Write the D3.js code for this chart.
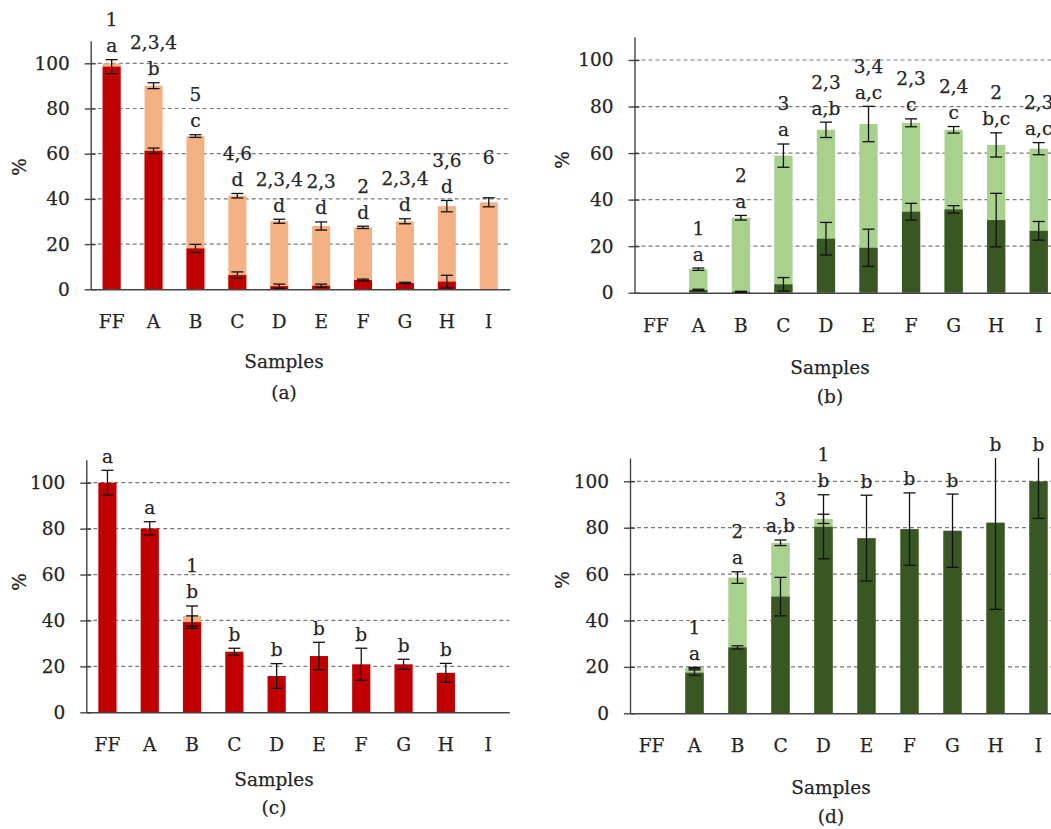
<!DOCTYPE html>
<html><head><meta charset="utf-8">
<script src="https://cdn.jsdelivr.net/npm/d3@7"></script>
<style>
body{margin:0;background:#fff}
svg{display:block}
text{font-family:"DejaVu Serif",serif;fill:#262626;stroke:#262626;stroke-width:0.25px}
</style>
</head><body>
<svg id="chart" width="1051" height="829"></svg>
<script>
const categories = ["FF","A","B","C","D","E","F","G","H","I"];
const yTicks = [0,20,40,60,80,100];

// (a)
const aLower    = [98.5,61.3,18.1,6.3,1.4,1.6,4.1,2.8,3.4,0];
const aLowerErr = [3.1,1.2,1.8,1.4,0.9,0.7,0.4,0.3,2.8,0];
const aTotal    = [100,90.1,67.8,41.4,30.1,28,27.4,30.1,36.8,38.5];
const aTotalErr = [0,1.3,0.6,1,0.9,1.8,0.5,1.1,2.5,2];
const aNum = ["1","2,3,4","5","4,6","2,3,4","2,3","2","2,3,4","3,6","6"];
const aLet = ["a","b","c","d","d","d","d","d","d",""];

// (b)
const bLower    = [null,1.2,0.4,3.6,23.2,19.3,34.8,35.8,31.2,26.6];
const bLowerErr = [0,0.3,0.2,2.9,7,8,3.6,1.6,11.5,4];
const bTotal    = [null,10.1,32.2,58.9,70,72.5,73,70,63.5,61.9];
const bTotalErr = [0,0.5,1,5,3.3,7.6,1.7,1.4,5.2,2.6];
const bNum = ["","1","2","3","2,3","3,4","2,3","2,4","2","2,3"];
const bLet = ["","a","a","a","a,b","a,c","c","c","b,c","a,c"];

// (c)
const cLower    = [100,80.1,39.3,26.4,15.8,24.5,20.9,20.9,17.2,null];
const cLowerErr = [5.4,2.9,2.7,1.5,5.4,6,7,2.2,4.1,0];
const cTotal    = [null,null,41.9,null,null,null,null,null,null,null];
const cTotalErr = [0,0,4.4,0,0,0,0,0,0,0];
const cNum = ["","","1","","","","","","",""];
const cLet = ["a","a","b","b","b","b","b","b","b",""];

// (d)
const dLower    = [null,17.5,28.4,50.3,80.4,75.5,79.4,78.7,82.2,100];
const dLowerErr = [0,1.2,0.7,8.3,13.8,18.5,15.6,15.8,37.4,16];
const dTotal    = [null,19.5,58.5,73.5,83.8,null,null,null,null,null];
const dTotalErr = [0,0.3,2.5,1.2,2,0,0,0,0,0];
const dNum = ["","1","2","3","1","","","","",""];
const dLet = ["","a","a","a,b","b","b","b","b","b","b"];

const RED = "#C00000", ORANGE = "#F4B183", DKGREEN = "#385723", LTGREEN = "#A9D18E";

const panels = [
  {lower:aLower, lowerErr:aLowerErr, total:aTotal, totalErr:aTotalErr, num:aNum, let:aLet,
   cLow:RED, cUp:ORANGE, x0:90.7, x1:509.7, y0:289.3, y100:63.3, pctX:20, pctY:167,
   capX:284, samplesY:362, tagY:393, tag:"(a)"},
  {lower:bLower, lowerErr:bLowerErr, total:bTotal, totalErr:bTotalErr, num:bNum, let:bLet,
   cLow:DKGREEN, cUp:LTGREEN, x0:634.5, x1:1060, y0:292.7, y100:60, pctX:563, pctY:160,
   capX:830, samplesY:368, tagY:397, tag:"(b)"},
  {lower:cLower, lowerErr:cLowerErr, total:cTotal, totalErr:cTotalErr, num:cNum, let:cLet,
   cLow:RED, cUp:ORANGE, x0:86.3, x1:509.3, y0:712.3, y100:482.7, pctX:20, pctY:582,
   capX:274, samplesY:780, tagY:808, tag:"(c)"},
  {lower:dLower, lowerErr:dLowerErr, total:dTotal, totalErr:dTotalErr, num:dNum, let:dLet,
   cLow:DKGREEN, cUp:LTGREEN, x0:630, x1:1060, y0:713.3, y100:481.3, pctX:563, pctY:580,
   capX:831, samplesY:788, tagY:817, tag:"(d)"}
];

const svg = d3.select("#chart");
const FS = 18.5;

panels.forEach(p => {
  const g = svg.append("g");
  const y110 = p.y0 - (p.y0 - p.y100) * 1.1;
  const y = d3.scaleLinear().domain([0,110]).range([p.y0, y110]);
  const x = d3.scaleBand().domain(categories).range([p.x0, p.x1]).paddingInner(0.57).paddingOuter(0.285);
  const bw = x.bandwidth();
  const cx = c => x(c) + bw/2;

  // grid
  g.append("g").selectAll("line").data(yTicks.filter(t => t > 0)).join("line")
    .attr("x1", p.x0).attr("x2", p.x1).attr("y1", d => y(d)).attr("y2", d => y(d))
    .attr("stroke", "#7a7a7a").attr("stroke-width", 1.2).attr("stroke-dasharray", "4,3");

  // bars
  categories.forEach((c, i) => {
    const t = p.total[i];
    if (t != null) {
      g.append("rect").attr("x", x(c)).attr("width", bw)
        .attr("y", y(t)).attr("height", y(0) - y(t)).attr("fill", p.cUp);
    }
    const l = p.lower[i];
    if (l != null && l > 0) {
      g.append("rect").attr("x", x(c)).attr("width", bw)
        .attr("y", y(l)).attr("height", y(0) - y(l)).attr("fill", p.cLow);
    }
  });

  // axes
  const ya = d3.axisLeft(y).tickValues(yTicks).tickSizeInner(6).tickSizeOuter(0).tickPadding(15);
  const yg = g.append("g").attr("transform", `translate(${p.x0},0)`).call(ya);
  yg.select(".domain").attr("stroke", "#444").attr("stroke-width", 1.4);
  yg.selectAll(".tick line").attr("stroke", "#444").attr("stroke-width", 1.4).attr("x2", 5).attr("x1", -6);
  yg.selectAll(".tick text").attr("font-size", FS).attr("font-family", "DejaVu Serif");

  const xa = d3.axisBottom(x).tickSize(0).tickSizeOuter(0).tickPadding(26);
  const xg = g.append("g").attr("transform", `translate(0,${p.y0})`).call(xa);
  xg.select(".domain").attr("stroke", "#444").attr("stroke-width", 1.4);
  xg.selectAll(".tick text").attr("font-size", FS).attr("font-family", "DejaVu Serif");

  // error bars
  const errBar = (c, v, e) => {
    if (v == null || !e) return;
    const lo = Math.max(0, v - e), hi = Math.min(110, v + e);
    const xc = cx(c);
    g.append("line").attr("x1", xc).attr("x2", xc).attr("y1", y(lo)).attr("y2", y(hi))
      .attr("stroke", "#111").attr("stroke-width", 1.3);
    if (v - e >= 0) g.append("line").attr("x1", xc-6).attr("x2", xc+6).attr("y1", y(lo)).attr("y2", y(lo))
      .attr("stroke", "#111").attr("stroke-width", 1.3);
    if (v + e <= 110) g.append("line").attr("x1", xc-6).attr("x2", xc+6).attr("y1", y(hi)).attr("y2", y(hi))
      .attr("stroke", "#111").attr("stroke-width", 1.3);
  };
  categories.forEach((c, i) => {
    errBar(c, p.total[i], p.totalErr[i]);
    errBar(c, p.lower[i], p.lowerErr[i]);
  });

  // significance labels
  categories.forEach((c, i) => {
    const tops = [];
    if (p.total[i] != null) tops.push(p.total[i] + (p.totalErr[i] || 0));
    if (p.lower[i] != null) tops.push(p.lower[i] + (p.lowerErr[i] || 0));
    if (!tops.length) return;
    const top = Math.min(110, d3.max(tops));
    const yb = y(top) - 14;
    if (p.let[i]) g.append("text").attr("x", cx(c)).attr("y", yb).attr("dy", "0.35em")
      .attr("text-anchor", "middle").attr("font-size", FS).text(p.let[i]);
    if (p.num[i]) g.append("text").attr("x", cx(c)).attr("y", yb - 26).attr("dy", "0.35em")
      .attr("text-anchor", "middle").attr("font-size", FS).text(p.num[i]);
  });

  // titles
  g.append("text").attr("transform", `translate(${p.pctX},${p.pctY}) rotate(-90)`)
    .attr("text-anchor", "middle").attr("dy", "0.35em").attr("font-size", FS).text("%");
  g.append("text").attr("x", p.capX).attr("y", p.samplesY).attr("dy", "0.35em")
    .attr("text-anchor", "middle").attr("font-size", FS).text("Samples");
  g.append("text").attr("x", p.capX).attr("y", p.tagY).attr("dy", "0.35em")
    .attr("text-anchor", "middle").attr("font-size", FS).text(p.tag);
});
</script>
</body></html>
